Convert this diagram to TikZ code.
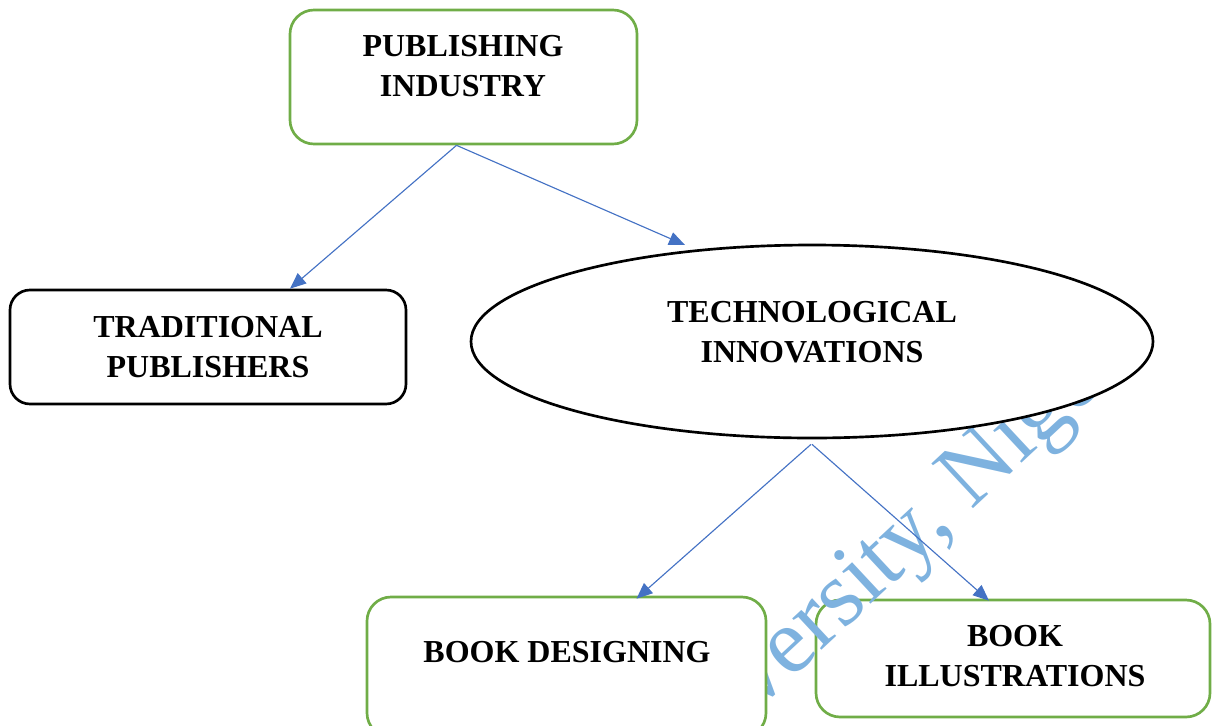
\documentclass[tikz,border=0pt]{standalone}
\usepackage{fontspec}
\setmainfont{Liberation Serif}
\usetikzlibrary{arrows.meta,shapes.geometric,calc}
\definecolor{boxgreen}{RGB}{112,173,71}
\definecolor{arrowblue}{RGB}{68,114,196}
\definecolor{wmblue}{RGB}{126,178,223}
\tikzset{
  greenbox/.style={draw=boxgreen, line width=2pt, rounded corners=18pt, fill=white, inner sep=0pt},
  blackbox/.style={draw=black, line width=2pt, rounded corners=15pt, fill=white, inner sep=0pt},
  ovalbox/.style={ellipse, draw=black, line width=2pt, fill=white, inner sep=0pt},
  lbl/.style={align=center, inner sep=0pt, font=\bfseries\fontsize{24}{30}\selectfont},
  conn/.style={draw=arrowblue, line width=0.85pt, -{Triangle[length=12pt,width=10pt]}, arrowblue},
  wmark/.style={text=wmblue, inner sep=0pt, font=\fontsize{70}{70}\selectfont}
}
\begin{document}
\begin{tikzpicture}[x=0.75pt,y=-0.75pt]
\useasboundingbox (0,0) rectangle (1212,725);
\begin{scope}
\clip (0,0) rectangle (1212,725);
% book illustrations box
\node[greenbox, minimum width=295.5pt, minimum height=87.75pt] (ill) at (1013,658.5) {};
% watermark
\node[wmark, anchor=base west, rotate=43] (wm) at (756,712) {versity, Nige};
% book designing box
\node[greenbox, minimum width=299.25pt, minimum height=105pt] (des) at (566.5,667) {};
% technological innovations ellipse
\node[ovalbox, minimum width=511.5pt, minimum height=144.75pt] (tech) at (812,341.5) {};
% publishing industry
\node[greenbox, minimum width=260.25pt, minimum height=100.5pt] (pub) at (463.5,77) {};
% traditional publishers
\node[blackbox, minimum width=297pt, minimum height=85.5pt] (trad) at (208,347) {};
\end{scope}
% texts
\node[lbl] (pubt) at (463,66) {PUBLISHING\\INDUSTRY};
\node[lbl] (tradt) at (208,347.5) {TRADITIONAL\\PUBLISHERS};
\node[lbl] (techt) at (812,332) {TECHNOLOGICAL\\INNOVATIONS};
\node[lbl] (dest) at (567,652) {BOOK DESIGNING};
\node[lbl] (illt) at (1015,656.5) {BOOK\\ILLUSTRATIONS};
% connectors
\draw[conn] ($(pub.south)+(-7,0)$) -- ($(trad.north)+(82,0)$);
\draw[conn] ($(pub.south)+(-7,0)$) -- ($(tech.center)+(-127,-96.5)$);
\draw[conn] ($(tech.south)+(-1,5)$) -- ($(des.north)+(70,3)$);
\draw[conn] ($(tech.south)+(0,5)$) -- ($(ill.north)+(-24,2)$);
\end{tikzpicture}
\end{document}
